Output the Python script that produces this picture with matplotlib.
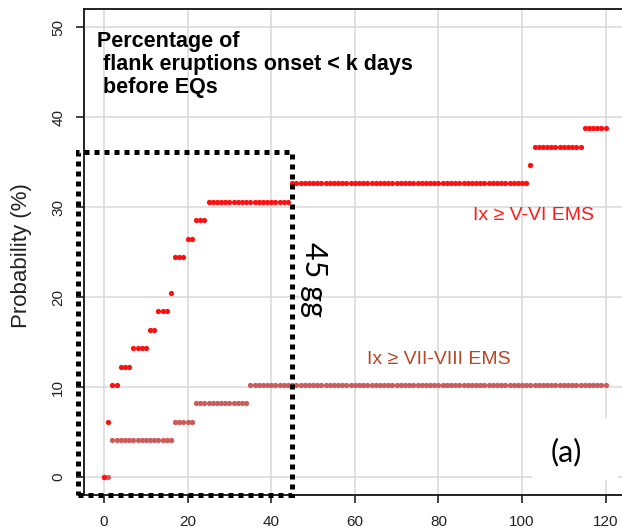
import matplotlib
matplotlib.use("Agg")
import matplotlib.pyplot as plt
from matplotlib.patches import Rectangle

# ---- data ----
days = list(range(0, 121))

red_values = [
    0.0, 6.1, 10.2, 10.2, 12.2, 12.2, 12.2, 14.3, 14.3, 14.3,
    14.3, 16.3, 16.3, 18.4, 18.4, 18.4, 20.4, 24.5, 24.5, 24.5,
    26.5, 26.5, 28.6, 28.6, 28.6, 30.6, 30.6, 30.6, 30.6, 30.6,
    30.6, 30.6, 30.6, 30.6, 30.6, 30.6, 30.6, 30.6, 30.6, 30.6,
    30.6, 30.6, 30.6, 30.6, 30.6, 32.7, 32.7, 32.7, 32.7, 32.7,
    32.7, 32.7, 32.7, 32.7, 32.7, 32.7, 32.7, 32.7, 32.7, 32.7,
    32.7, 32.7, 32.7, 32.7, 32.7, 32.7, 32.7, 32.7, 32.7, 32.7,
    32.7, 32.7, 32.7, 32.7, 32.7, 32.7, 32.7, 32.7, 32.7, 32.7,
    32.7, 32.7, 32.7, 32.7, 32.7, 32.7, 32.7, 32.7, 32.7, 32.7,
    32.7, 32.7, 32.7, 32.7, 32.7, 32.7, 32.7, 32.7, 32.7, 32.7,
    32.7, 32.7, 34.7, 36.7, 36.7, 36.7, 36.7, 36.7, 36.7, 36.7,
    36.7, 36.7, 36.7, 36.7, 36.7, 38.8, 38.8, 38.8, 38.8, 38.8,
    38.8,
]

brown_values = [
    0.0, 0.0, 4.1, 4.1, 4.1, 4.1, 4.1, 4.1, 4.1, 4.1,
    4.1, 4.1, 4.1, 4.1, 4.1, 4.1, 4.1, 6.1, 6.1, 6.1,
    6.1, 6.1, 8.2, 8.2, 8.2, 8.2, 8.2, 8.2, 8.2, 8.2,
    8.2, 8.2, 8.2, 8.2, 8.2, 10.2, 10.2, 10.2, 10.2, 10.2,
    10.2, 10.2, 10.2, 10.2, 10.2, 10.2, 10.2, 10.2, 10.2, 10.2,
    10.2, 10.2, 10.2, 10.2, 10.2, 10.2, 10.2, 10.2, 10.2, 10.2,
    10.2, 10.2, 10.2, 10.2, 10.2, 10.2, 10.2, 10.2, 10.2, 10.2,
    10.2, 10.2, 10.2, 10.2, 10.2, 10.2, 10.2, 10.2, 10.2, 10.2,
    10.2, 10.2, 10.2, 10.2, 10.2, 10.2, 10.2, 10.2, 10.2, 10.2,
    10.2, 10.2, 10.2, 10.2, 10.2, 10.2, 10.2, 10.2, 10.2, 10.2,
    10.2, 10.2, 10.2, 10.2, 10.2, 10.2, 10.2, 10.2, 10.2, 10.2,
    10.2, 10.2, 10.2, 10.2, 10.2, 10.2, 10.2, 10.2, 10.2, 10.2,
    10.2,
]

x_ticks = [0, 20, 40, 60, 80, 100, 120]
y_ticks = [0, 10, 20, 30, 40, 50]

title_text = "Percentage of\n flank eruptions onset < k days\n before EQs"
red_label = "Ix \u2265 V-VI EMS"
brown_label = "Ix \u2265 VII-VIII EMS"
y_label = "Probability (%)"
window_label = "45 gg"
panel_label = "(a)"
window_days = 45

# ---- figure ----
W, H = 622, 532
fig = plt.figure(figsize=(W / 100, H / 100), dpi=100)
fig.patch.set_facecolor("white")
ax = fig.add_axes([84 / W, 37 / H, 541.7 / W, 486 / H])
ax.set_xlim(-4.8, 124.8)
ax.set_ylim(-2, 52)

ax.set_xticks(x_ticks)
ax.set_yticks(y_ticks)
ax.grid(True, color="#d9d9d9", linewidth=1.1, zorder=0)
ax.set_axisbelow(True)

for s in ax.spines.values():
    s.set_linewidth(1.4)
    s.set_color("#222222")

ax.tick_params(axis="both", direction="out", length=5.5, width=1.2,
               color="#222222", labelcolor="#222222", labelsize=11,
               labelfontfamily="Liberation Sans")
ax.tick_params(axis="x", pad=9)
ax.tick_params(axis="y", pad=8)
for lab in ax.get_yticklabels():
    lab.set_rotation(90)
    lab.set_va("center")

# data points
ax.plot(days, brown_values, linestyle="none", marker="o", markersize=3.8,
        markeredgewidth=0, color="#cc5c5c", zorder=3)
ax.plot(days, red_values, linestyle="none", marker="o", markersize=3.8,
        markeredgewidth=0, color="#ff1010", zorder=4)

# dotted window box
box = Rectangle((-6.3, -2), window_days + 6.3, 36.1 + 2, fill=False,
                edgecolor="black", linewidth=3.6, linestyle=(0, (1, 1)),
                clip_on=False, zorder=5)
box.set_capstyle("butt")
ax.add_patch(box)

# texts
ax.text(-1.75, 49.6, title_text, ha="left", va="top", fontsize=15.5,
        fontweight="bold", family="Liberation Sans", color="black",
        linespacing=1.15, zorder=6)
ax.text(102.7, 29.1, red_label, ha="center", va="center", fontsize=14,
        family="Liberation Sans", color="#ff1a1a", zorder=6)
ax.text(80.1, 13.05, brown_label, ha="center", va="center", fontsize=14,
        family="Liberation Sans", color="#b5472a", zorder=6)
ax.text(50.2, 21.9, window_label, ha="center", va="center", rotation=-90,
        fontsize=22, family="Lato", color="black", zorder=6)

# white patch behind the panel label
ax.add_patch(Rectangle((102.3, -0.3), 20.6, 6.9, facecolor="white",
                       edgecolor="none", zorder=2, clip_on=False))
ax.text(110.7, 2.8, panel_label, ha="center", va="center", fontsize=22,
        family="Lato", color="black", zorder=6)

fig.text(22 / W, 1 - 256 / H, y_label, rotation=90, ha="center",
         va="center", fontsize=16, family="Liberation Sans", color="#222222")

fig.savefig("out.png", dpi=100, facecolor="white")
